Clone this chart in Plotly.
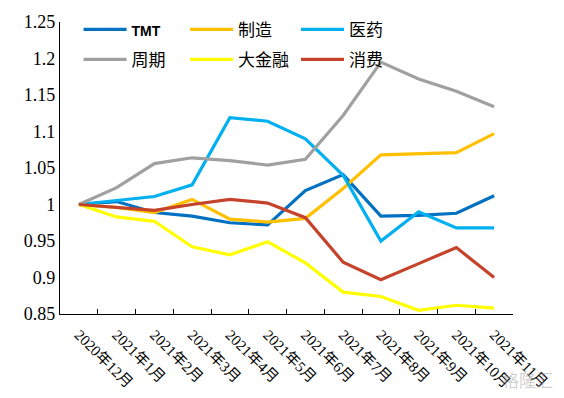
import plotly.graph_objects as go

months = ["2020年12月", "2021年1月", "2021年2月", "2021年3月", "2021年4月", "2021年5月",
          "2021年6月", "2021年7月", "2021年8月", "2021年9月", "2021年10月", "2021年11月"]

tmt = [1.000, 1.004, 0.989, 0.984, 0.975, 0.972, 1.019, 1.041, 0.984, 0.985, 0.988, 1.012]
zhizao = [1.000, 0.996, 0.989, 1.007, 0.980, 0.976, 0.981, 1.022, 1.068, 1.070, 1.071, 1.097]
yiyao = [1.000, 1.006, 1.011, 1.027, 1.119, 1.114, 1.090, 1.040, 0.950, 0.990, 0.968, 0.968]
zhouqi = [1.000, 1.023, 1.056, 1.064, 1.060, 1.054, 1.062, 1.122, 1.195, 1.172, 1.155, 1.134]
dajinrong = [1.000, 0.983, 0.977, 0.942, 0.931, 0.949, 0.920, 0.880, 0.874, 0.855, 0.862, 0.858]
xiaofei = [1.000, 0.996, 0.992, 1.000, 1.007, 1.002, 0.982, 0.921, 0.897, 0.919, 0.941, 0.900]

y_ticks = [0.85, 0.9, 0.95, 1.0, 1.05, 1.1, 1.15, 1.2, 1.25]
y_tick_text = ["0.85", "0.9", "0.95", "1", "1.05", "1.1", "1.15", "1.2", "1.25"]

series = [
    ("<span style='font-size:14px'><b>TMT</b></span>", tmt, "#0070C0", "legend"),
    ("制造", zhizao, "#FFC000", "legend2"),
    ("医药", yiyao, "#00B0F0", "legend3"),
    ("周期", zhouqi, "#A0A0A0", "legend"),
    ("大金融", dajinrong, "#FFFF00", "legend2"),
    ("消费", xiaofei, "#C5432B", "legend3"),
]

fig = go.Figure()
for i, (name, vals, color, lg) in enumerate(series):
    fig.add_trace(go.Scatter(
        x=months, y=vals, name=name, mode="lines",
        line=dict(color=color, width=3.2),
        legend=lg, legendgroup="g%d" % i,
    ))

legend_common = dict(
    orientation="v",
    font=dict(family="Liberation Sans, Noto Sans CJK SC", size=17, color="#000000"),
    bgcolor="rgba(0,0,0,0)",
    itemwidth=43,
    tracegroupgap=5,
    yanchor="top",
    xanchor="left",
)

fig.update_layout(
    width=564, height=398,
    margin=dict(l=60, r=51, t=22, b=84),
    paper_bgcolor="white", plot_bgcolor="white",
    showlegend=True,
    legend=dict(x=0.041, y=1.035, **legend_common),
    legend2=dict(x=0.276, y=1.035, **legend_common),
    legend3=dict(x=0.521, y=1.035, **legend_common),
    annotations=[dict(
        text="格隆汇", x=1.0, y=0.0, xref="paper", yref="paper",
        xanchor="right", yanchor="bottom", xshift=42, yshift=-80, showarrow=False,
        font=dict(family="Noto Sans CJK SC", size=17, color="rgba(160,160,160,0.5)"),
    )],
)

fig.update_xaxes(
    type="category", automargin=False,
    showline=True, linecolor="#000000", linewidth=1.3,
    ticks="inside", ticklen=5, tickcolor="#000000", tickson="boundaries",
    tickangle=45, ticklabelstandoff=5,
    tickfont=dict(family="Liberation Serif, Noto Sans CJK SC", size=15, color="#000000"),
    showgrid=False, zeroline=False,
    range=[-0.5, 11.5],
)
fig.update_yaxes(
    range=[0.85, 1.25], automargin=False,
    tickvals=y_ticks, ticktext=y_tick_text,
    showline=True, linecolor="#000000", linewidth=1.3,
    ticks="", showgrid=False, zeroline=False,
    tickfont=dict(family="Liberation Serif", size=18, color="#000000"),
)

fig.write_html(
    "out.html",
    config={"displayModeBar": False},
    post_script="document.body.style.margin='0';document.body.style.overflow='hidden';",
)
